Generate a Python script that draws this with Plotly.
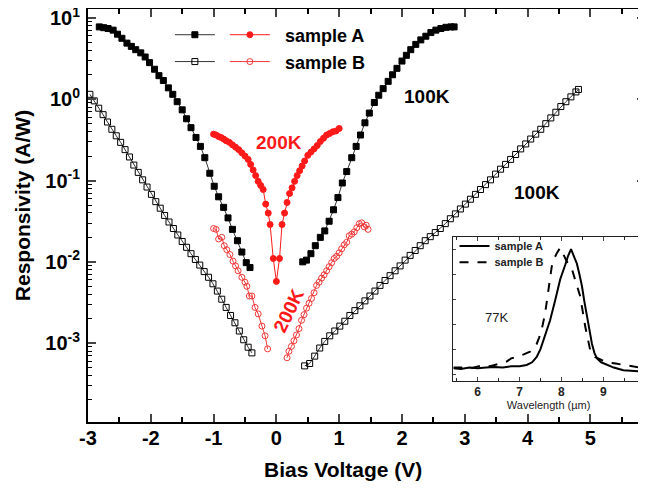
import plotly.graph_objects as go

# ---------------- data ----------------
# sample A, 100 K (filled black squares)
a100_left_v = [-2.82, -2.75, -2.68, -2.60, -2.53, -2.46, -2.38, -2.31, -2.24, -2.16, -2.09, -2.02,
               -1.94, -1.87, -1.80, -1.72, -1.65, -1.58, -1.50, -1.43, -1.36, -1.28, -1.21, -1.14,
               -1.06, -0.99, -0.92, -0.84, -0.77, -0.70, -0.62, -0.55, -0.48, -0.42]
a100_left_r = [7.76, 7.59, 7.41, 7.08, 6.31, 5.62, 4.90, 4.47, 4.07, 3.72, 3.31, 2.82,
               2.34, 1.95, 1.70, 1.38, 1.15, 0.933, 0.741, 0.575, 0.447, 0.339, 0.263, 0.191,
               0.123, 0.0851, 0.0631, 0.0468, 0.0347, 0.0251, 0.0182, 0.0132, 0.00977, 0.00851]
a100_right_v = [0.42, 0.48, 0.55, 0.62, 0.70, 0.77, 0.84, 0.91, 0.98, 1.05, 1.12, 1.20, 1.27, 1.34,
                1.41, 1.48, 1.56, 1.63, 1.70, 1.78, 1.85, 1.92, 2.00, 2.07, 2.14, 2.22, 2.30, 2.38,
                2.46, 2.54, 2.62, 2.70, 2.78, 2.83]
a100_right_r = [0.0100, 0.0105, 0.0126, 0.0158, 0.0200, 0.0240, 0.0316, 0.0437, 0.0617, 0.0933,
                0.129, 0.191, 0.263, 0.363, 0.513, 0.676, 0.912, 1.12, 1.35, 1.66, 2.00, 2.40,
                2.95, 3.47, 4.07, 4.73, 5.37, 5.96, 6.61, 7.08, 7.41, 7.67, 7.76, 7.76]

# sample B, 100 K (open black squares)
b100_left_v = [-2.97, -2.90, -2.83, -2.76, -2.69, -2.62, -2.55, -2.48, -2.41, -2.34, -2.27, -2.20,
               -2.13, -2.06, -1.99, -1.92, -1.85, -1.78, -1.71, -1.64, -1.57, -1.50, -1.43, -1.36,
               -1.29, -1.22, -1.15, -1.08, -1.01, -0.94, -0.87, -0.80, -0.73, -0.66, -0.59, -0.52,
               -0.45, -0.39]
b100_left_r = [1.15, 0.955, 0.776, 0.646, 0.525, 0.427, 0.355, 0.295, 0.240, 0.195, 0.155, 0.126,
               0.102, 0.0832, 0.0676, 0.0550, 0.0457, 0.0372, 0.0309, 0.0257, 0.0214, 0.0178,
               0.0151, 0.0126, 0.0107, 0.00912, 0.00759, 0.00646, 0.00537, 0.00437, 0.00347,
               0.00275, 0.00219, 0.00178, 0.00141, 0.00110, 0.000891, 0.000759]
b100_right_v = [0.45, 0.53, 0.61, 0.69, 0.77, 0.85, 0.93, 1.01, 1.09, 1.17, 1.25, 1.33, 1.41, 1.49,
                1.57, 1.65, 1.73, 1.81, 1.89, 1.97, 2.05, 2.13, 2.21, 2.29, 2.37, 2.45, 2.53, 2.61,
                2.69, 2.77, 2.85, 2.93, 3.01, 3.09, 3.17, 3.25, 3.33, 3.41, 3.49, 3.57, 3.65, 3.73,
                3.81, 3.89, 3.97, 4.05, 4.13, 4.21, 4.29, 4.37, 4.45, 4.53, 4.61, 4.69, 4.77, 4.81]
b100_right_r = [5.25e-4, 5.62e-4, 6.92e-4, 8.71e-4, 1.05e-3, 1.23e-3, 1.41e-3, 1.62e-3, 1.86e-3,
                2.19e-3, 2.51e-3, 2.88e-3, 3.31e-3, 3.80e-3, 4.37e-3, 5.13e-3, 5.89e-3, 6.76e-3,
                7.76e-3, 8.91e-3, 1.05e-2, 1.20e-2, 1.38e-2, 1.58e-2, 1.82e-2, 2.04e-2, 2.29e-2,
                2.57e-2, 2.95e-2, 3.39e-2, 3.89e-2, 4.47e-2, 5.13e-2, 5.89e-2, 6.76e-2, 7.76e-2,
                8.91e-2, 0.102, 0.120, 0.138, 0.158, 0.182, 0.209, 0.245, 0.282, 0.324, 0.372,
                0.427, 0.501, 0.589, 0.692, 0.813, 0.933, 1.07, 1.23, 1.32]

# sample A, 200 K (filled red circles)
a200_v = [-1.00, -0.96, -0.92, -0.88, -0.84, -0.80, -0.75, -0.70, -0.65, -0.60, -0.55, -0.50,
          -0.45, -0.41, -0.37, -0.33, -0.29, -0.25, -0.21, -0.17, -0.13, -0.10, -0.05, 0.00,
          0.05, 0.09, 0.13, 0.17, 0.21, 0.25, 0.29, 0.33, 0.37, 0.41, 0.45, 0.50, 0.55, 0.60,
          0.65, 0.70, 0.75, 0.80, 0.85, 0.90, 0.95, 1.00]
a200_r = [0.372, 0.363, 0.347, 0.339, 0.324, 0.309, 0.295, 0.275, 0.257, 0.240, 0.219, 0.200,
          0.182, 0.158, 0.135, 0.115, 0.0977, 0.0871, 0.0776, 0.0513, 0.0398, 0.0288, 0.0110,
          0.00575, 0.0110, 0.0288, 0.0398, 0.0537, 0.0692, 0.0813, 0.0977, 0.115, 0.132, 0.151,
          0.174, 0.204, 0.224, 0.245, 0.269, 0.302, 0.331, 0.363, 0.380, 0.398, 0.407, 0.437]

# sample B, 200 K (open red circles)
b200_left_v = [-1.00, -0.96, -0.92, -0.87, -0.83, -0.79, -0.74, -0.69, -0.65, -0.61, -0.55, -0.50,
               -0.47, -0.43, -0.39, -0.34, -0.29, -0.23, -0.18, -0.14]
b200_left_r = [0.0257, 0.0251, 0.0191, 0.0200, 0.0158, 0.0141, 0.0123, 0.0102, 0.00891, 0.00776,
               0.00646, 0.00562, 0.00501, 0.00380, 0.00380, 0.00275, 0.00229, 0.00162, 0.00123,
               0.000851]
b200_right_v = [0.17, 0.20, 0.24, 0.28, 0.32, 0.36, 0.40, 0.44, 0.48, 0.52, 0.56, 0.60, 0.64, 0.68,
                0.72, 0.76, 0.80, 0.84, 0.88, 0.92, 0.96, 1.00, 1.04, 1.08, 1.12, 1.16, 1.20, 1.24,
                1.28, 1.32, 1.36, 1.40, 1.43, 1.46]
b200_right_r = [6.61e-4, 7.94e-4, 9.12e-4, 1.07e-3, 1.26e-3, 1.51e-3, 1.91e-3, 2.24e-3, 2.69e-3,
                3.09e-3, 3.55e-3, 4.17e-3, 5.13e-3, 5.62e-3, 6.31e-3, 6.92e-3, 7.76e-3, 8.71e-3,
                9.77e-3, 0.0110, 0.0117, 0.0129, 0.0145, 0.0162, 0.0174, 0.0209, 0.0219, 0.0234,
                0.0263, 0.0295, 0.0302, 0.0269, 0.0282, 0.0251]

# inset: normalised spectra at 77 K
wl_a = [5.42, 5.60, 5.80, 6.00, 6.20, 6.40, 6.60, 6.80, 7.00, 7.17, 7.30, 7.41, 7.50, 7.57, 7.65,
        7.73, 7.85, 7.97, 8.09, 8.16, 8.23, 8.30, 8.37, 8.43, 8.49, 8.55, 8.61, 8.67, 8.73, 8.79,
        8.85, 8.95, 9.09, 9.25, 9.48, 9.70, 9.96]
sp_a = [0.095, 0.090, 0.100, 0.095, 0.100, 0.105, 0.100, 0.110, 0.110, 0.120, 0.140, 0.180, 0.240,
        0.310, 0.390, 0.460, 0.610, 0.770, 0.880, 0.950, 1.000, 0.950, 0.890, 0.810, 0.720, 0.600,
        0.490, 0.380, 0.280, 0.210, 0.170, 0.140, 0.120, 0.100, 0.080, 0.075, 0.070]
wl_b = [5.42, 5.60, 5.80, 6.00, 6.13, 6.30, 6.50, 6.69, 6.80, 6.93, 7.10, 7.25, 7.33, 7.41, 7.47,
        7.53, 7.61, 7.69, 7.77, 7.83, 7.89, 7.97, 8.03, 8.09, 8.17, 8.25, 8.35, 8.45, 8.57, 8.69,
        8.80, 8.95, 9.09, 9.30, 9.48, 9.70, 9.88, 9.97]
sp_b = [0.100, 0.100, 0.090, 0.110, 0.120, 0.110, 0.130, 0.145, 0.170, 0.180, 0.200, 0.220, 0.250,
        0.280, 0.330, 0.390, 0.510, 0.690, 0.870, 0.930, 0.970, 1.010, 0.970, 0.940, 0.880, 0.850,
        0.750, 0.640, 0.410, 0.230, 0.180, 0.160, 0.140, 0.130, 0.120, 0.110, 0.100, 0.100]

x_ticks = [-3, -2, -1, 0, 1, 2, 3, 4, 5]
x_ticktext = ["-3", "-2", "-1", "0", "1", "2", "3", "4", "5"]
y_tickvals = [0.001, 0.01, 0.1, 1, 10]
y_ticktext = ["10<sup>-3</sup>", "10<sup>-2</sup>", "10<sup>-1</sup>", "10<sup>0</sup>", "10<sup>1</sup>"]
wl_ticks = [6, 7, 8, 9]

FONT = "Liberation Sans, Arial, sans-serif"
RED = "#ff1a1a"
RED_OPEN = "#ee3a3a"
NB = "\u00a0\u00a0"

fig = go.Figure()

def add(xv, yv, color, symbol, size, lw, name="", legend=None, show=False, xaxis="x", yaxis="y"):
    fig.add_trace(go.Scatter(
        x=xv, y=yv, mode="lines+markers", name=name,
        line=dict(color=color, width=lw),
        marker=dict(symbol=symbol, size=size, color=color,
                    line=dict(color=color, width=1)),
        showlegend=show, legend=legend, xaxis=xaxis, yaxis=yaxis))

add(a100_left_v, a100_left_r, "black", "square", 6, 0.8, name="", legend="legend", show=True)
add(a200_v, a200_r, RED, "circle", 6, 1, name=NB + "sample A", legend="legend", show=True)
add(a100_right_v, a100_right_r, "black", "square", 6, 0.8)
add(b100_left_v, b100_left_r, "black", "square-open", 6, 0.8, name="", legend="legend2", show=True)
add(b200_left_v, b200_left_r, RED_OPEN, "circle-open", 6, 1, name=NB + "sample B", legend="legend2", show=True)
add(b100_right_v, b100_right_r, "black", "square-open", 6, 0.8)
add(b200_right_v, b200_right_r, RED_OPEN, "circle-open", 6, 1)

# inset
fig.add_trace(go.Scatter(x=wl_a, y=sp_a, mode="lines", name="sample A",
                         line=dict(color="black", width=2), xaxis="x2", yaxis="y2",
                         legend="legend3", showlegend=True))
fig.add_trace(go.Scatter(x=wl_b, y=sp_b, mode="lines", name="sample B",
                         line=dict(color="black", width=2, dash="dash"), xaxis="x2", yaxis="y2",
                         legend="legend4", showlegend=True))

bold = dict(family=FONT, size=20, color="black", weight="bold")
leg_main = dict(family=FONT, size=18, weight="bold")
leg_in = dict(family=FONT, size=11, weight="bold", color="#222")

# the page adds an 8 px body margin; the figure is sized so that it fits the 646x489 window
fig.update_layout(
    width=638, height=481,
    margin=dict(l=80, r=1, t=1, b=67, autoexpand=False),
    paper_bgcolor="white", plot_bgcolor="white",
    font=dict(family=FONT, color="black"),
    xaxis=dict(range=[-3, 5.87], tickvals=x_ticks, ticktext=x_ticktext, ticks="inside",
               ticklen=8, tickwidth=2, automargin=False, ticklabelstandoff=-3,
               showline=True, linewidth=2, linecolor="black", mirror="ticks",
               showgrid=False, zeroline=False, tickfont=bold,
               minor=dict(dtick=0.5, tick0=0, ticks="inside", ticklen=5, tickwidth=1.5,
                          tickcolor="black", showgrid=False)),
    yaxis=dict(type="log", range=[-3.97, 1.11], tickvals=y_tickvals, ticktext=y_ticktext,
               ticks="inside", ticklen=8, tickwidth=2, automargin=False,
               ticklabelstandoff=2, ticklabeloverflow="allow",
               showline=True, linewidth=2, linecolor="black", mirror="ticks",
               showgrid=False, zeroline=False, tickfont=bold,
               minor=dict(dtick="D1", ticks="inside", ticklen=4, tickwidth=1.2,
                          tickcolor="black", showgrid=False)),
    xaxis2=dict(domain=[0.656, 0.998], anchor="y2", range=[5.42, 9.97], tickvals=wl_ticks,
                ticks="inside", ticklen=4, tickwidth=1, showline=True, linewidth=1,
                linecolor="#222", mirror="ticks", showgrid=False, zeroline=False,
                automargin=False,
                tickfont=dict(family=FONT, size=12, color="#222", weight="bold"),
                minor=dict(dtick=0.5, tick0=0, ticks="inside", ticklen=3, tickcolor="#222"),
                title=dict(text="Wavelength (µm)", standoff=0,
                           font=dict(family=FONT, size=11, color="#222"))),
    yaxis2=dict(domain=[0.1, 0.447], anchor="x2", range=[0, 1.09], showticklabels=False,
                tick0=0.05, dtick=0.19, ticks="inside", ticklen=3, tickwidth=1,
                showline=True, linewidth=1, linecolor="#222", mirror="ticks",
                showgrid=False, zeroline=False, automargin=False),
    legend=dict(orientation="h", x=0.147, y=0.937, xanchor="left", yanchor="middle",
                bgcolor="rgba(0,0,0,0)", font=leg_main, itemwidth=40),
    legend2=dict(orientation="h", x=0.147, y=0.872, xanchor="left", yanchor="middle",
                 bgcolor="rgba(0,0,0,0)", font=leg_main, itemwidth=40),
    legend3=dict(orientation="v", x=0.658, y=0.426, xanchor="left", yanchor="middle",
                 bgcolor="rgba(0,0,0,0)", font=leg_in, itemwidth=30),
    legend4=dict(orientation="v", x=0.658, y=0.387, xanchor="left", yanchor="middle",
                 bgcolor="rgba(0,0,0,0)", font=leg_in, itemwidth=30),
    annotations=[
        dict(text="Bias Voltage (V)", xref="paper", yref="paper", x=0.458, y=-0.116,
             xanchor="center", yanchor="middle", showarrow=False,
             font=dict(family=FONT, size=21, weight="bold")),
        dict(text="Responsivity (A/W)", xref="paper", yref="paper", x=-0.1185, y=0.525,
             xanchor="center", yanchor="middle", textangle=-90, showarrow=False,
             font=dict(family=FONT, size=21, weight="bold")),
        dict(text="100K", x=2.406, y=0.037, xref="x", yref="y", showarrow=False,
             font=dict(family=FONT, size=19, weight="bold")),
        dict(text="100K", x=4.157, y=-1.141, xref="x", yref="y", showarrow=False,
             font=dict(family=FONT, size=19, weight="bold")),
        dict(text="200K", x=0.041, y=-0.528, xref="x", yref="y", showarrow=False,
             font=dict(family=FONT, size=19, weight="bold", color=RED)),
        dict(text="200K", x=0.2, y=-2.60, xref="x", yref="y", showarrow=False, textangle=-64,
             font=dict(family=FONT, size=19, weight="bold", color=RED)),
        dict(text="77K", x=6.455, y=0.477, xref="x2", yref="y2", showarrow=False,
             font=dict(family=FONT, size=13, color="#222")),
    ],
)

fig.write_html("out.html")
